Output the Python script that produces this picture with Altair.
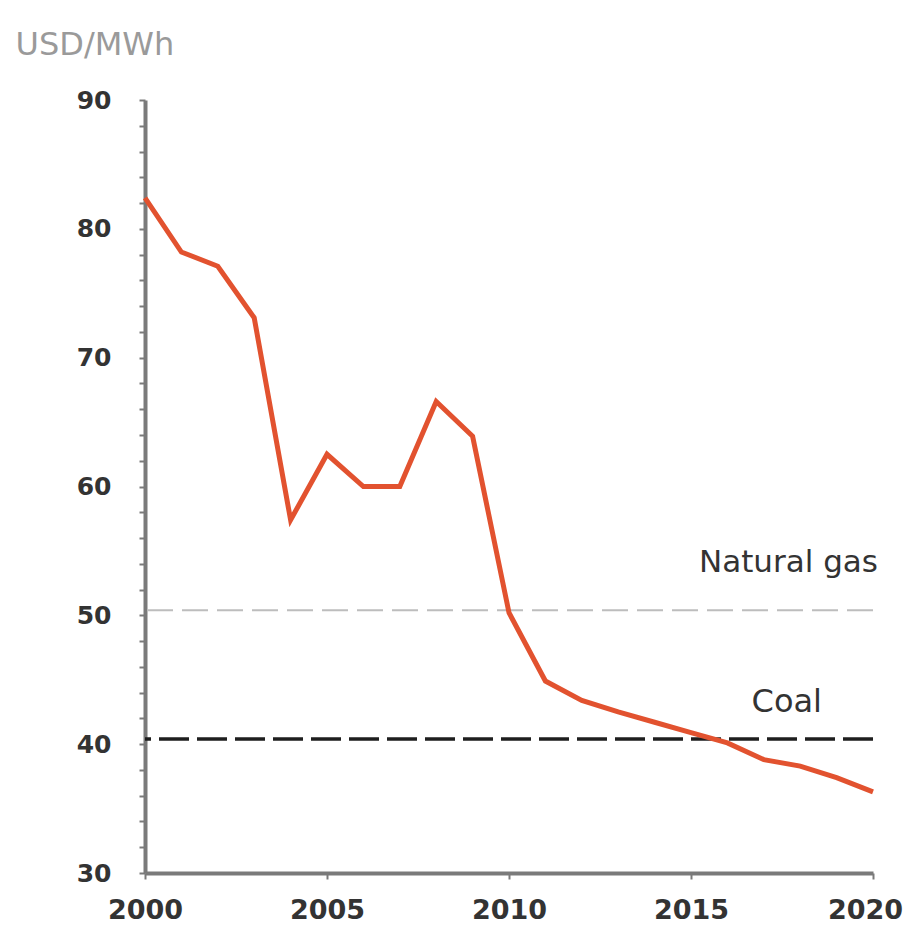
import altair as alt
import pandas as pd

years = list(range(2000, 2021))
wind_cost = [82.4, 78.2, 77.1, 73.1, 57.4, 62.5, 60.0, 60.0, 66.6, 63.9, 50.2,
             44.9, 43.4, 42.5, 41.7, 40.9, 40.1, 38.8, 38.3, 37.4, 36.3]
ref_names = ["Natural gas", "Coal"]
ref_values = [50.4, 40.4]
x_ticks = [2000, 2005, 2010, 2015, 2020]
y_ticks = list(range(30, 91, 2))

df = pd.DataFrame({"year": years, "cost": wind_cost})
gas = pd.DataFrame({"name": [ref_names[0]], "value": [ref_values[0]], "year": [2020]})
coal = pd.DataFrame({"name": [ref_names[1]], "value": [ref_values[1]], "year": [2020]})

FONT = "DejaVu Sans"

x_scale = alt.Scale(domain=[2000, 2020], nice=False, zero=False)
y_scale = alt.Scale(domain=[30, 90], nice=False, zero=False)

x_axis = alt.Axis(values=x_ticks, format="d", title=None,
                  grid=False, domainColor="#7a7a7a", domainWidth=4,
                  tickColor="#7a7a7a", tickWidth=2, tickSize=6,
                  labelFont=FONT, labelFontWeight="bold", labelFontSize=27,
                  labelColor="#333333", labelPadding=18, labelFlush=False,
                  labelOverlap=False,
                  labelOffset={"condition": {"test": "datum.value == 2020", "value": -8},
                               "value": 0})
y_axis = alt.Axis(values=y_ticks,
                  labelExpr="(round(datum.value) % 10 == 0) ? ('' + round(datum.value)) : ''",
                  labelOverlap=False, labelBound=False,
                  title="USD/MWh", titleAngle=0, titleAlign="left",
                  titleBaseline="alphabetic", titleX=-130, titleY=-46,
                  titleFont=FONT, titleFontWeight="normal", titleFontSize=32,
                  titleColor="#9a9a9a",
                  grid=False, domainColor="#7a7a7a", domainWidth=4,
                  tickColor="#7a7a7a", tickWidth=2, tickSize=6,
                  labelFont=FONT, labelFontWeight="bold", labelFontSize=25,
                  labelColor="#333333", labelPadding=28)

line = alt.Chart(df).mark_line(color="#E2522F", strokeWidth=5).encode(
    x=alt.X("year:Q", scale=x_scale, axis=x_axis),
    y=alt.Y("cost:Q", scale=y_scale, axis=y_axis),
)

gas_rule = alt.Chart(gas).mark_rule(color="#bdbdbd", strokeWidth=2, strokeDash=[26, 9]).encode(
    y=alt.Y("value:Q", scale=y_scale, axis=y_axis)
)
coal_rule = alt.Chart(coal).mark_rule(color="#1e1e1e", strokeWidth=3.5, strokeDash=[30, 8]).encode(
    y=alt.Y("value:Q", scale=y_scale, axis=y_axis)
)

gas_text = alt.Chart(gas).mark_text(font=FONT, fontSize=31, color="#333333", align="right",
                                    baseline="alphabetic", dx=5, dy=-38).encode(
    x=alt.X("year:Q", scale=x_scale, axis=x_axis),
    y=alt.Y("value:Q", scale=y_scale, axis=y_axis), text="name:N"
)
coal_text = alt.Chart(coal).mark_text(font=FONT, fontSize=32, color="#333333", align="right",
                                      baseline="alphabetic", dx=-51, dy=-27).encode(
    x=alt.X("year:Q", scale=x_scale, axis=x_axis),
    y=alt.Y("value:Q", scale=y_scale, axis=y_axis), text="name:N"
)

chart = alt.layer(gas_rule, coal_rule, line, gas_text, coal_text).properties(
    width=728, height=773,
    background="white",
    autosize=alt.AutoSizeParams(type="none"),
    padding={"left": 137, "top": 92, "right": 32, "bottom": 53},
).configure_view(strokeWidth=0)

chart.save("out.html", embed_options={"renderer": "svg", "actions": False})
